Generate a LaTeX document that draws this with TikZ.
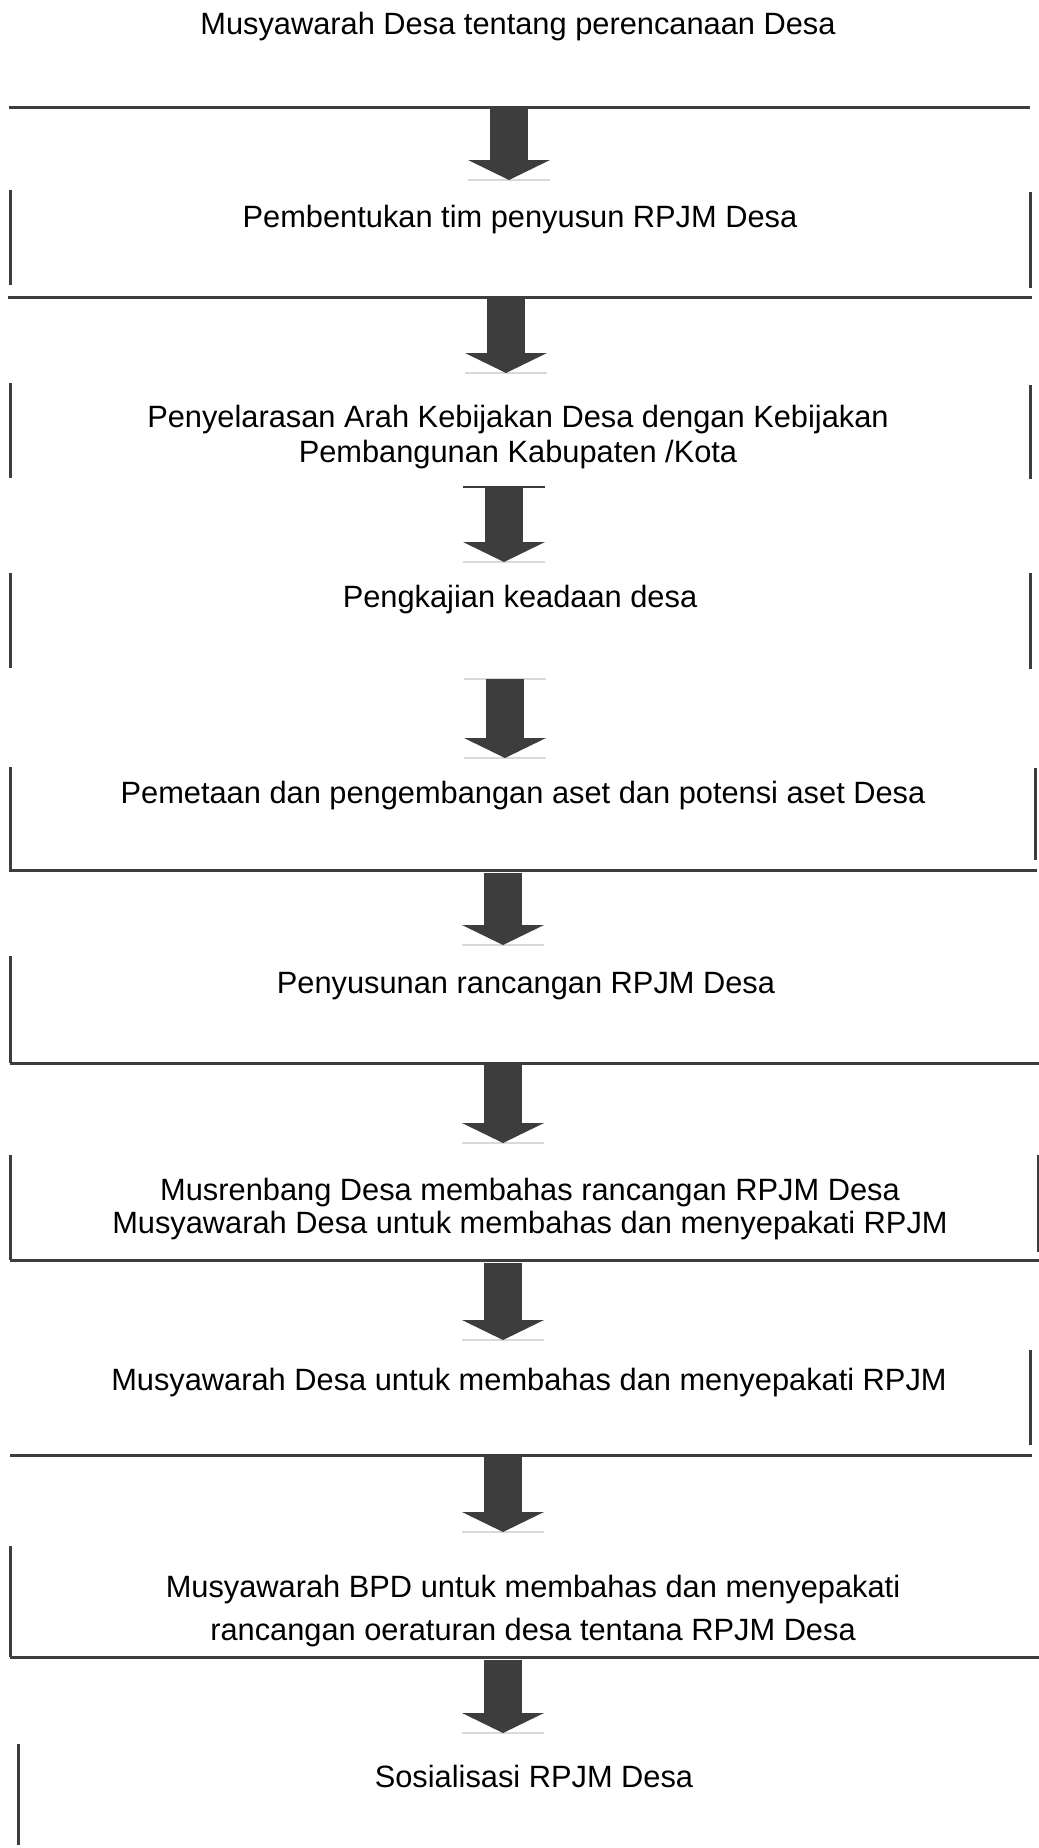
\documentclass[tikz,border=0pt]{standalone}
\usepackage{fontspec}
\setmainfont{Liberation Sans}
\usetikzlibrary{arrows.meta}

\definecolor{ink}{HTML}{3D3D3D}

\begin{document}
\begin{tikzpicture}[x=0.5pt,y=-0.5pt,
    every node/.style={font=\fontsize{15.4}{17.5}\selectfont,inner sep=0pt,anchor=base,align=center},
    rule/.style={ink,line width=1.5pt},
    blockarrow/.style={ink,line width=19pt,-{Triangle[width=41pt,length=10pt,line width=0pt]}},
    rim/.style={gray!30,line width=0.6pt}]
\useasboundingbox (0,0) rectangle (1039,1848);

\node (S0) at (518,34)   {Musyawarah Desa tentang perencanaan Desa};
\node (S1) at (520,227)  {Pembentukan tim penyusun RPJM Desa};
\node (S2) at (518,462)  {Penyelarasan Arah Kebijakan Desa dengan Kebijakan\\Pembangunan Kabupaten /Kota};
\node (S3) at (520,607)  {Pengkajian keadaan desa};
\node (S4) at (523,803)  {Pemetaan dan pengembangan aset dan potensi aset Desa};
\node (S5) at (526,993)  {Penyusunan rancangan RPJM Desa};
\node (S6) at (530,1233) {Musrenbang Desa membahas rancangan RPJM Desa\\[-1pt]Musyawarah Desa untuk membahas dan menyepakati RPJM};
\node (S7) at (529,1390) {Musyawarah Desa untuk membahas dan menyepakati RPJM};
\node (S8) at (533,1640) {Musyawarah BPD untuk membahas dan menyepakati\\[4pt]rancangan oeraturan desa tentana RPJM Desa};
\node (S9) at (534,1787) {Sosialisasi RPJM Desa};

\coordinate (A1) at (509,108);  \coordinate (B1) at (509,180);
\coordinate (A2) at (506,298);  \coordinate (B2) at (506,373);
\coordinate (A3) at (504,487);  \coordinate (B3) at (504,562);
\coordinate (A4) at (505,679);  \coordinate (B4) at (505,758);
\coordinate (A5) at (503,873);  \coordinate (B5) at (503,945);
\coordinate (A6) at (503,1065); \coordinate (B6) at (503,1143);
\coordinate (A7) at (503,1263); \coordinate (B7) at (503,1340);
\coordinate (A8) at (503,1457); \coordinate (B8) at (503,1532);
\coordinate (A9) at (503,1660); \coordinate (B9) at (503,1733);

\draw[rule] (9,107) -- (1030,107);
\draw[rule] (10,190) -- (10,285)   (1030,192) -- (1030,288)  (8,297) -- (1032,297);
\draw[rule] (10,383) -- (10,478)   (1030,385) -- (1030,479);
\draw[rule] (10,573) -- (10,668)   (1030,573) -- (1030,669);
\draw[rule] (10,767) -- (10,872)   (1035,768) -- (1035,860)  (10,870) -- (1037,870);
\draw[rule] (10,956) -- (10,1063)  (10,1063) -- (1040,1063);
\draw[rule] (10,1155) -- (10,1260) (1038,1155) -- (1038,1252) (10,1260) -- (1040,1260);
\draw[rule] (1030,1350) -- (1030,1445) (10,1455) -- (1032,1455);
\draw[rule] (10,1546) -- (10,1657) (10,1657) -- (1039,1657);
\draw[rule] (18,1744) -- (18,1845);

\draw[ink,line width=1pt] ([xshift=-20.5pt]A3) -- ([xshift=20.5pt]A3);
\draw[rim] ([xshift=-20.5pt]A4) -- ([xshift=20.5pt]A4);
\draw[rim] ([xshift=-20.5pt]B1) -- ([xshift=20.5pt]B1)
           ([xshift=-20.5pt]B2) -- ([xshift=20.5pt]B2)
           ([xshift=-20.5pt]B3) -- ([xshift=20.5pt]B3)
           ([xshift=-20.5pt]B4) -- ([xshift=20.5pt]B4)
           ([xshift=-20.5pt]B5) -- ([xshift=20.5pt]B5)
           ([xshift=-20.5pt]B6) -- ([xshift=20.5pt]B6)
           ([xshift=-20.5pt]B7) -- ([xshift=20.5pt]B7)
           ([xshift=-20.5pt]B8) -- ([xshift=20.5pt]B8)
           ([xshift=-20.5pt]B9) -- ([xshift=20.5pt]B9);

\path[blockarrow] (A1) edge (B1)
                  (A2) edge (B2)
                  (A3) edge (B3)
                  (A4) edge (B4)
                  (A5) edge (B5)
                  (A6) edge (B6)
                  (A7) edge (B7)
                  (A8) edge (B8)
                  (A9) edge (B9);

\end{tikzpicture}
\end{document}
